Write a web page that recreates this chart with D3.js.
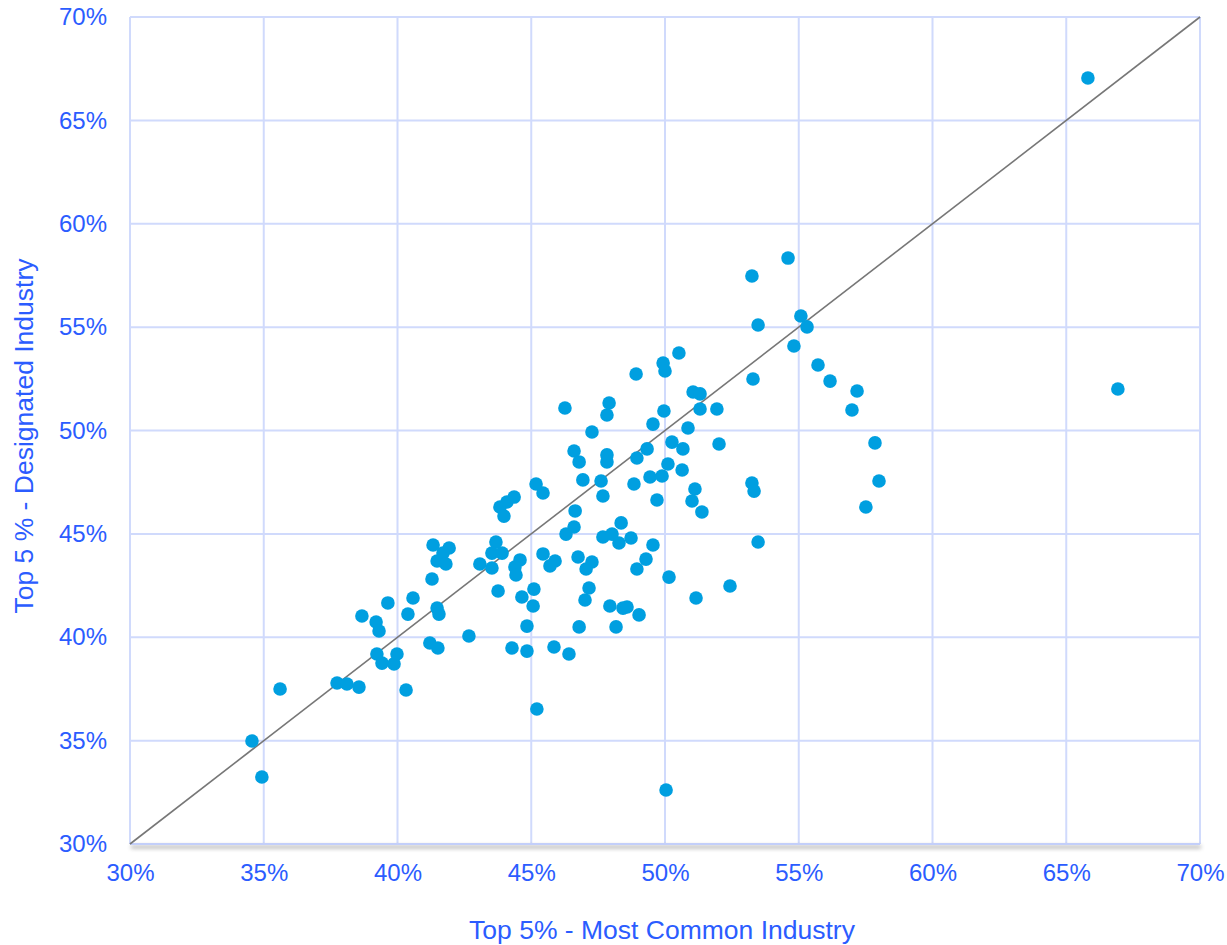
<!DOCTYPE html>
<html>
<head>
<meta charset="utf-8">
<script src="https://cdn.jsdelivr.net/npm/d3@7"></script>
<style>
  body { margin: 0; background: #fff; }
  text { font-family: "Liberation Sans", Arial, sans-serif; fill: #2b5cff; }
</style>
</head>
<body>
<svg id="chart" width="1227" height="945"></svg>
<script>
// Top 5% - Most Common Industry (x), in percent
const mostCommon = [
  34.56, 34.93, 35.61, 37.74, 38.11, 38.56, 38.67, 39.20, 39.31, 39.64,
  40.39, 40.58, 39.23, 39.42, 39.87, 39.98, 40.32, 41.21, 41.51, 41.48,
  41.55, 41.29, 42.67, 41.33, 41.93, 41.70, 41.48, 41.81, 43.08, 43.53,
  43.68, 43.53, 43.91, 44.58, 44.39, 44.43, 43.76, 44.65, 45.10, 45.07,
  44.84, 44.28, 44.84, 45.85, 46.41, 45.21, 43.83, 44.09, 44.36, 43.98,
  45.18, 45.44, 45.44, 45.89, 45.70, 46.26,
  46.93, 46.64, 46.60, 46.30, 46.75, 47.27, 47.05, 47.16, 47.01, 46.79,
  47.94, 48.43, 48.58, 49.03, 48.17, 47.91, 47.83, 47.27, 46.60, 46.79,
  47.83, 47.83, 48.95, 49.33, 49.55, 47.61, 47.68, 48.84, 49.44, 49.70,
  48.36, 47.68, 48.02, 48.28, 48.73, 49.55, 49.29, 48.95, 50.15, 49.93,
  50.00, 48.92, 50.52, 49.96, 50.86, 50.26, 50.67, 50.11, 50.64, 49.89,
  51.05, 51.31, 51.31, 51.94, 52.02, 51.12, 51.01, 51.38, 51.16, 52.43,
  53.25, 54.60, 53.48, 55.08, 55.31, 54.82, 53.29, 55.72, 56.17, 57.18,
  56.99, 57.85, 58.00, 57.51, 53.25, 53.33, 53.48, 50.04, 65.81, 66.93
];
// Top 5 % - Designated Industry (y), in percent
const designated = [
  34.98, 33.24, 37.50, 37.79, 37.74, 37.59, 41.03, 40.74, 40.30, 41.66,
  41.12, 41.90, 39.19, 38.75, 38.71, 39.19, 37.45, 39.72, 39.48, 41.41,
  41.12, 42.82, 40.06, 44.46, 44.32, 44.07, 43.69, 43.54, 43.54, 43.35,
  44.61, 44.07, 44.07, 43.74, 43.40, 43.01, 42.24, 41.95, 42.33, 41.51,
  40.54, 39.48, 39.33, 39.53, 39.19, 36.53, 46.30, 46.54, 46.78, 45.86,
  47.41, 46.98, 44.03, 43.69, 43.45, 51.09,
  47.61, 46.11, 45.33, 44.99, 43.88, 43.64, 43.30, 42.38, 41.80, 40.50,
  41.51, 41.41, 41.46, 41.08, 40.50, 51.33, 50.75, 49.93, 49.01, 48.48,
  48.82, 48.48, 48.67, 49.11, 50.31, 47.56, 46.83, 47.41, 47.75, 46.64,
  45.53, 44.85, 44.99, 44.56, 44.80, 44.46, 43.78, 43.30, 42.91, 53.26,
  52.88, 52.73, 53.75, 50.94, 50.12, 49.44, 49.11, 48.38, 48.09, 47.80,
  51.86, 51.77, 51.04, 51.04, 49.35, 47.17, 46.59, 46.06, 41.90, 42.48,
  57.47, 58.34, 55.10, 55.54, 55.01, 54.09, 52.49, 53.17, 52.39, 51.91,
  50.99, 49.40, 47.56, 46.30, 47.46, 47.07, 44.61, 32.61, 67.05, 52.01
];
const ticks = [30, 35, 40, 45, 50, 55, 60, 65, 70];
const xTitle = 'Top 5% - Most Common Industry';
const yTitle = 'Top 5 % - Designated Industry';

const margin = { left: 130, right: 27, top: 17, bottom: 101 };
const width = 1227;
const height = 945;

const svg = d3.select('#chart');

const x = d3.scaleLinear()
  .domain([30, 70])
  .range([margin.left, width - margin.right]);

const y = d3.scaleLinear()
  .domain([30, 70])
  .range([height - margin.bottom, margin.top]);

// a horizontal line has a zero-height bbox, so the filter region is in user space
const defs = svg.append('defs');
defs.append('filter')
  .attr('id', 'shadow')
  .attr('filterUnits', 'userSpaceOnUse')
  .attr('x', 0).attr('y', height - margin.bottom - 20)
  .attr('width', width).attr('height', 40)
  .append('feDropShadow')
  .attr('dx', 1).attr('dy', 3)
  .attr('stdDeviation', 2)
  .attr('flood-color', '#000')
  .attr('flood-opacity', 0.45);

// grid
svg.append('g')
  .attr('stroke', '#d0dafc')
  .attr('stroke-width', 2)
  .selectAll('line')
  .data(ticks)
  .join('line')
  .attr('x1', d => x(d)).attr('x2', d => x(d))
  .attr('y1', y(70)).attr('y2', y(30));

svg.append('g')
  .attr('stroke', '#d0dafc')
  .attr('stroke-width', 2)
  .selectAll('line')
  .data(ticks.slice(1))
  .join('line')
  .attr('x1', x(30)).attr('x2', x(70))
  .attr('y1', d => y(d)).attr('y2', d => y(d));

// x axis line with shadow
svg.append('line')
  .attr('x1', x(30)).attr('x2', x(70))
  .attr('y1', y(30)).attr('y2', y(30))
  .attr('stroke', '#c3cffa')
  .attr('stroke-width', 2)
  .attr('filter', 'url(#shadow)');

// diagonal y = x
svg.append('line')
  .attr('x1', x(30)).attr('y1', y(30))
  .attr('x2', x(70)).attr('y2', y(70))
  .attr('stroke', '#777')
  .attr('stroke-width', 1.6);

// points
svg.append('g')
  .attr('fill', '#009fe0')
  .selectAll('circle')
  .data(mostCommon.map((v, i) => [v, designated[i]]))
  .join('circle')
  .attr('cx', d => x(d[0]))
  .attr('cy', d => y(d[1]))
  .attr('r', 6.8);

// tick labels
svg.append('g')
  .call(d3.axisLeft(y).tickValues(ticks).tickFormat(d => d + '%').tickSize(0).tickPadding(23))
  .attr('transform', `translate(${margin.left},0)`)
  .call(g => g.select('.domain').remove())
  .call(g => g.selectAll('text')
    .attr('font-size', 24)
    .attr('font-family', '"Liberation Sans", Arial, sans-serif')
    .attr('fill', '#2b5cff'));

svg.append('g')
  .call(d3.axisBottom(x).tickValues(ticks).tickFormat(d => d + '%').tickSize(0).tickPadding(20))
  .attr('transform', `translate(0,${height - margin.bottom})`)
  .call(g => g.select('.domain').remove())
  .call(g => g.selectAll('text')
    .attr('font-size', 24)
    .attr('font-family', '"Liberation Sans", Arial, sans-serif')
    .attr('fill', '#2b5cff'));

// axis titles
svg.append('text')
  .attr('x', 662)
  .attr('y', 939)
  .attr('text-anchor', 'middle')
  .attr('font-size', 26.5)
  .text(xTitle);

svg.append('text')
  .attr('transform', `translate(33,436) rotate(-90)`)
  .attr('text-anchor', 'middle')
  .attr('font-size', 26.5)
  .text(yTitle);
</script>
</body>
</html>
